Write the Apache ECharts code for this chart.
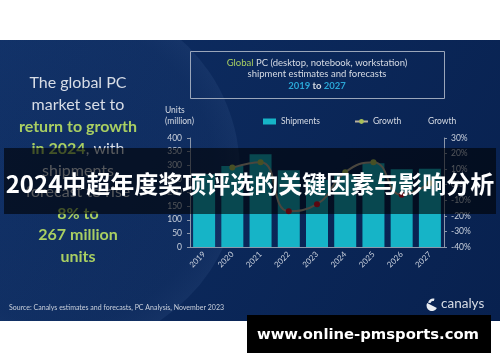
<!DOCTYPE html>
<html><head><meta charset="utf-8">
<script src="https://cdn.jsdelivr.net/npm/echarts@6/dist/echarts.min.js"></script>
<style>html,body{margin:0;padding:0;background:#fff}#c{width:500px;height:362px}</style>
</head><body><div id="c"></div>
<script>
const years = ['2019','2020','2021','2022','2023','2024','2025','2026','2027'];
const shipments = [267, 297, 340, 282, 247, 267, 307, 285, 287];
const growth = [null, 11, 14.5, -17, -12.5, 8, 14.5, -6.5, 1];
const leftTicks = {min: 0, max: 400, interval: 50};
const rightTicks = {min: -40, max: 30, interval: 10};
const leftText = [
  [['w','The global PC']],
  [['w','market set to']],
  [['gb','return to growth']],
  [['gb','in 2024'],['w',', with']],
  [['w','shipments']],
  [['w','forecast to rise']],
  [['gb','8% to']],
  [['gb','267 million']],
  [['gb','units']]
];
const overlayTitle = '2024中超年度奖项评选的关键因素与影响分析';
const sourceText = 'Source: Canalys estimates and forecasts, PC Analysis, November 2023';
const urlText = 'www.online-pmsports.com';

const chart = echarts.init(document.getElementById('c'), null, {renderer:'canvas'});
const F = 'Lato, "Open Sans", sans-serif';
const txt = '#d6dbe4';
const green = '#a9cf62';
const cyan = '#2aa6d6';

const graphics = [
  {type:'rect', z:-10, shape:{x:0,y:40,width:500,height:281},
   style:{fill:new echarts.graphic.LinearGradient(0,0,1,1,[{offset:0,color:'#0e2e64'},{offset:1,color:'#08214f'}])}},
  {type:'circle', z:-9, shape:{cx:62,cy:172,r:178},
   style:{fill:new echarts.graphic.RadialGradient(0.5,0.5,0.5,[{offset:0,color:'rgba(60,95,150,0.06)'},{offset:0.85,color:'rgba(60,95,150,0.09)'},{offset:1,color:'rgba(90,125,180,0.12)'}])}},
  {type:'rect', z:-8, shape:{x:0,y:0,width:500,height:40}, style:{fill:'#ffffff'}},
  {type:'rect', z:-8, shape:{x:0,y:321,width:500,height:41}, style:{fill:'#ffffff'}},
  {type:'rect', z:5, shape:{x:190.5,y:51.5,width:254,height:47}, style:{fill:'none',stroke:'#9aa6ba',lineWidth:1}},
  {type:'text', z:5, x:317, y:63, style:{text:'{g|Global} PC (desktop, notebook, workstation)', align:'center', verticalAlign:'middle', fill:txt, font:'9.5px '+F, rich:{g:{fill:green, font:'9.5px '+F}}}},
  {type:'text', z:5, x:317, y:74, style:{text:'shipment estimates and forecasts', align:'center', verticalAlign:'middle', fill:txt, font:'9.5px '+F}},
  {type:'text', z:5, x:317, y:85.5, style:{text:'{c|2019} to {c|2027}', align:'center', verticalAlign:'middle', fill:txt, font:'bold 9.5px '+F, rich:{c:{fill:cyan, font:'bold 9.5px '+F}}}},
  {type:'text', z:5, x:165, y:110.5, style:{text:'Units', verticalAlign:'middle', fill:txt, font:'8.5px '+F}},
  {type:'text', z:5, x:165, y:121, style:{text:'(million)', verticalAlign:'middle', fill:txt, font:'8.5px '+F}},
  {type:'text', z:5, x:428, y:121, style:{text:'Growth', verticalAlign:'middle', fill:txt, font:'8.5px '+F}},
  {type:'text', z:5, x:9, y:308, style:{text:sourceText, verticalAlign:'middle', fill:'#c9d0dc', font:'7px '+F}},
  {type:'sector', z:5, shape:{cx:432,cy:305.5,r:5.5,r0:0,startAngle:Math.PI*0.15,endAngle:Math.PI*1.15}, style:{fill:'#e8ecf2'}},
  {type:'sector', z:5, shape:{cx:433,cy:303.5,r:5,r0:2.5,startAngle:Math.PI*1.05,endAngle:Math.PI*1.6}, style:{fill:'#e8ecf2'}},
  {type:'text', z:5, x:441, y:303.5, style:{text:'canalys', verticalAlign:'middle', fill:'#d8dde6', font:'13.5px '+F}},
  {type:'rect', z:100, shape:{x:4,y:148,width:492,height:66}, style:{fill:'rgba(0,0,0,0.6)'}},
  {type:'text', z:101, x:250, y:184, style:{text:overlayTitle, align:'center', verticalAlign:'middle', fill:'#ffffff', font:'bold 24px "Noto Sans CJK SC", sans-serif'}},
  {type:'rect', z:100, shape:{x:247,y:315,width:244,height:38}, style:{fill:'#000000'}},
  {type:'text', z:101, x:368, y:335, style:{text:urlText, align:'center', verticalAlign:'middle', fill:'#ffffff', font:'bold 14.8px "DejaVu Sans", sans-serif'}}
];
const ys = [83,105,127,149,170.5,192,213.5,235,257];
leftText.forEach((parts,i)=>{
  const t = parts.map(p=>'{'+p[0]+'|'+p[1]+'}').join('');
  graphics.push({type:'text', z:5, x:78, y:ys[i], style:{text:t, align:'center', verticalAlign:'middle',
    rich:{w:{fill:'#d8dde6', font:'16px '+F}, gb:{fill:green, font:'bold 16px '+F}}}});
});

chart.setOption({
  animation:false,
  backgroundColor:'transparent',
  grid:{left:190, right:56, top:138, bottom:115},
  legend:{left:258, top:112, itemWidth:13, itemHeight:6, itemGap:34,
    textStyle:{color:txt, fontSize:8.5, fontFamily:F},
    data:[{name:'Shipments', icon:'rect'},{name:'Growth', itemStyle:{color:'#a9c058'}, lineStyle:{color:'#b9b09c'}}]},
  xAxis:{type:'category', data:years,
    axisLine:{lineStyle:{color:'#8c97aa'}}, axisTick:{show:false},
    axisLabel:{rotate:45, color:'#c9d0dc', fontSize:8, fontFamily:F, margin:6}},
  yAxis:[
    {type:'value', min:leftTicks.min, max:leftTicks.max, interval:leftTicks.interval, splitLine:{show:false},
     axisLine:{show:true, lineStyle:{color:'#8c97aa'}}, axisTick:{show:true, length:3, lineStyle:{color:'#8c97aa'}},
     axisLabel:{color:'#c9d0dc', fontSize:8.5, fontFamily:F, margin:8}},
    {type:'value', min:rightTicks.min, max:rightTicks.max, interval:rightTicks.interval, splitLine:{show:false},
     axisLine:{show:true, lineStyle:{color:'#8c97aa'}}, axisTick:{show:true, length:3, lineStyle:{color:'#8c97aa'}},
     axisLabel:{color:'#c9d0dc', fontSize:8.5, fontFamily:F, margin:7, formatter:'{value}%'}}
  ],
  series:[
    {name:'Shipments', type:'bar', data:shipments, barWidth:22, itemStyle:{color:'#16b4c7'}},
    {name:'Growth', type:'line', yAxisIndex:1, data:growth, smooth:true, connectNulls:false,
     symbol:'circle', symbolSize:6, lineStyle:{color:'#b9b09c', width:2},
     itemStyle:{color:function(p){return p.value>=0?'#b4c85a':'#e0142c';}}}
  ],
  graphic:graphics
});
</script></body></html>
